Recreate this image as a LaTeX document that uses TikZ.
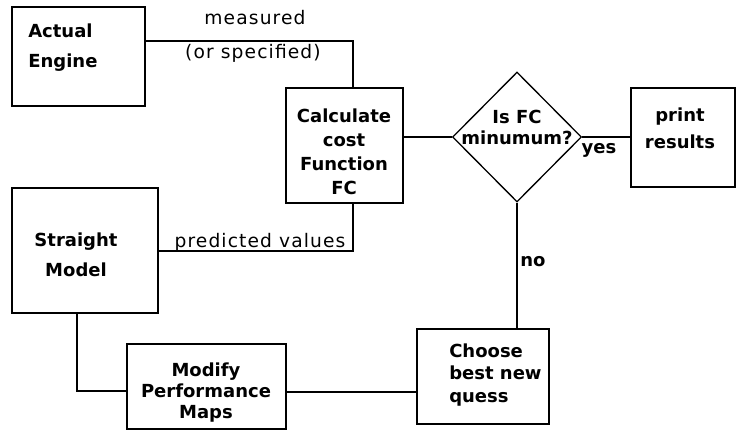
\documentclass[tikz,border=0pt]{standalone}
\usepackage{fontspec}
\setmainfont{DejaVu Sans}
\usetikzlibrary{shapes.geometric}
\begin{document}
\begin{tikzpicture}[x=0.75pt,y=-0.75pt,
  box/.style={draw,line width=1pt,inner sep=0pt},
  bt/.style={font=\bfseries\fontsize{13.5}{#1}\selectfont,inner sep=0pt},
  lbl/.style={font=\addfontfeature{LetterSpace=6}\fontsize{14}{16}\selectfont,inner sep=0pt},
  conn/.style={line width=1.1pt}]
\useasboundingbox (0,0) rectangle (737,440);
% boxes
\node[box,minimum width=99.75pt,minimum height=74.25pt] (eng) at (78.5,56.5) {};
\node[box,minimum width=87.75pt,minimum height=86.25pt] (calc) at (344.5,145.5) {};
\node[box,diamond,minimum width=96.75pt,minimum height=97.5pt] (dia) at (517,137) {};
\node[box,minimum width=78pt,minimum height=74.25pt] (prt) at (683,137.5) {};
\node[box,minimum width=109.5pt,minimum height=93.75pt] (strt) at (85,250.5) {};
\node[box,minimum width=119.25pt,minimum height=63.75pt] (mod) at (206.5,386.5) {};
\node[box,minimum width=99pt,minimum height=71.25pt] (ch) at (483,376.5) {};
% box texts
\node[bt=22.5pt,align=left,anchor=west] (engt) at (28,48) {Actual\\Engine};
\node[bt=18pt,align=center] (calct) at (344,151.5) {Calculate\\cost\\Function\\FC};
\node[bt=15.75pt,align=center] (diat) at (517,127.5) {Is FC\\minumum?};
\node[bt=20pt,align=center] (prtt) at (680,128.5) {print\\results};
\node[bt=22.5pt,align=center] (strtt) at (76,255) {Straight\\Model};
\node[bt=15.5pt,align=center] (modt) at (206,392.5) {Modify\\Performance\\Maps};
\node[bt=17pt,align=left,anchor=west] (cht) at (449,375) {Choose\\best new\\quess};
% connector corners
\coordinate (m1) at (353,41);
\coordinate (m2) at (353,251);
\coordinate (m3) at (417,392);
\coordinate (m4) at (77,391);
% connectors
\draw[conn] (eng.east |- m1) -- (m1) -- (m1 |- calc.north);
\draw[conn] (strt.east |- m2) -- (m2) -- (m2 |- calc.south);
\draw[conn] (dia.west) -- (dia.west -| calc.east);
\draw[conn] (dia.east) -- (dia.east -| prt.west);
\draw[conn] (dia.south) -- (dia.south |- ch.north);
\draw[conn] (ch.west |- m3) -- (mod.east |- m3);
\draw[conn] (m4 |- strt.south) -- (m4) -- (m4 -| mod.west);
% labels
\node[lbl] (l1) at (255,18) {measured};
\node[lbl] (l2) at (253,53) {(or specified)};
\node[lbl] (l3) at (260,242) {predicted values};
\node[bt=16pt] (lyes) at (599,150) {yes};
\node[bt=16pt] (lno) at (533,262) {no};
\end{tikzpicture}
\end{document}
